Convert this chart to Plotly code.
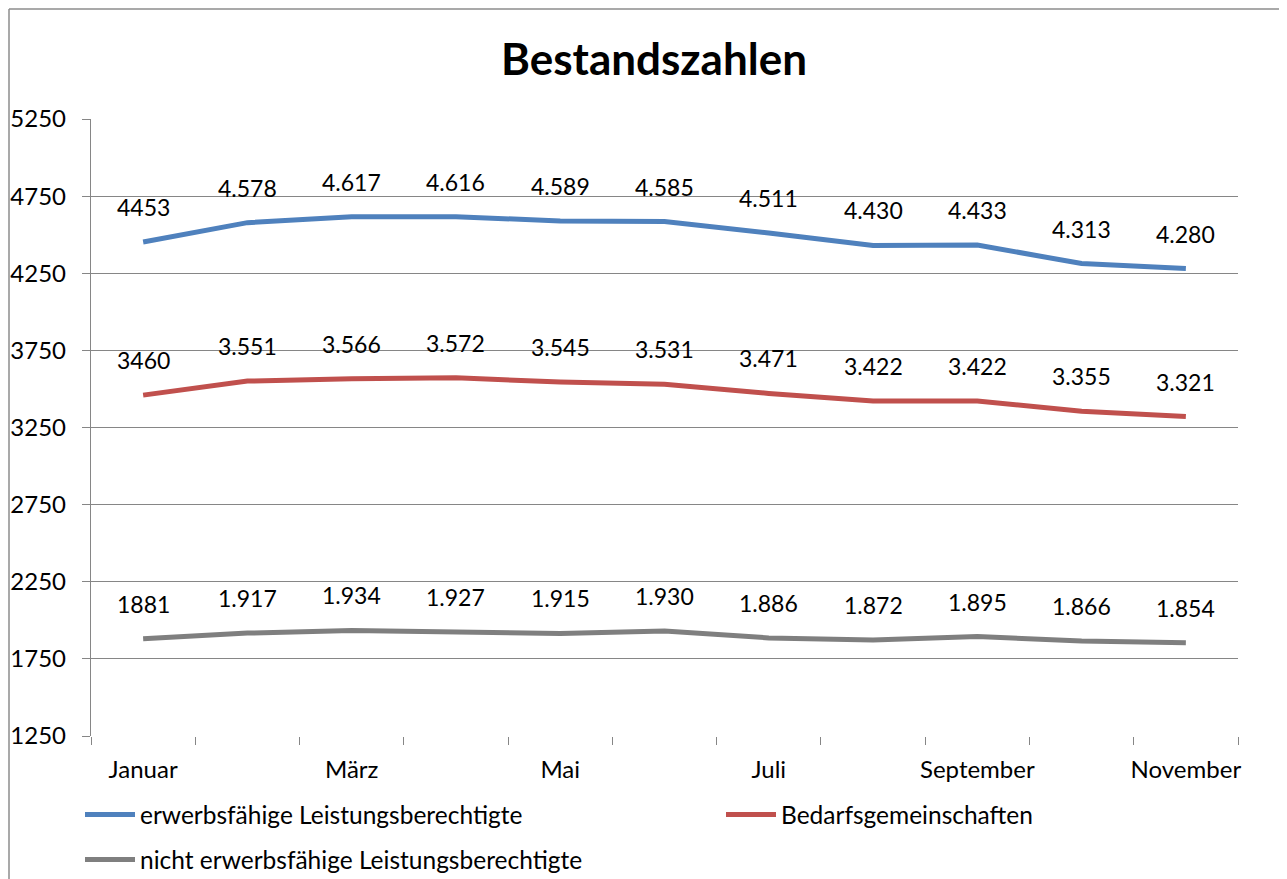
import plotly.graph_objects as go

months = ["Januar", "Februar", "März", "April", "Mai", "Juni", "Juli",
          "August", "September", "Oktober", "November"]
elb = [4453, 4578, 4617, 4616, 4589, 4585, 4511, 4430, 4433, 4313, 4280]
bg = [3460, 3551, 3566, 3572, 3545, 3531, 3471, 3422, 3422, 3355, 3321]
nelb = [1881, 1917, 1934, 1927, 1915, 1930, 1886, 1872, 1895, 1866, 1854]
y_ticks = [1250, 1750, 2250, 2750, 3250, 3750, 4250, 4750, 5250]

series = [
    ("erwerbsfähige Leistungsberechtigte", elb, "#4F81BD", "legend"),
    ("Bedarfsgemeinschaften", bg, "#C0504D", "legend2"),
    ("nicht erwerbsfähige Leistungsberechtigte", nelb, "#7F7F7F", "legend3"),
]

FONT = "Lato"
x = list(range(1, len(months) + 1))

W, H = 1279, 871
L, R, T, B = 83, 49, 111, 143
PW, PH = W - L - R, H - T - B


def fmt(i, v):
    return str(v) if i == 0 else f"{v:,}".replace(",", ".")


fig = go.Figure()
annotations = []
for name, vals, color, lg in series:
    fig.add_trace(go.Scatter(x=x, y=vals, name=name, mode="lines", legend=lg,
                             line=dict(color=color, width=5)))
    for i, v in enumerate(vals):
        annotations.append(dict(x=x[i], y=v, text=fmt(i, v), showarrow=False,
                                yshift=35, font=dict(size=23, color="black", family=FONT)))

grid = "#868686"
leg_common = dict(orientation="h", yanchor="top", font=dict(size=24.5, color="black"),
                  itemwidth=50, bgcolor="rgba(0,0,0,0)")
fig.update_layout(
    width=W, height=H,
    paper_bgcolor="white", plot_bgcolor="white",
    margin=dict(l=L, r=R, t=T, b=B, autoexpand=False),
    title=dict(text="<b>Bestandszahlen</b>", x=646 / W, xanchor="center",
               y=1 - 52 / H, yanchor="middle",
               font=dict(size=44, color="black", family=FONT)),
    font=dict(family=FONT, size=23, color="black"),
    xaxis=dict(range=[0.5, len(months) + 0.5], tickvals=x[::2], ticktext=months[::2],
               ticks="", showgrid=False, zeroline=False, showline=False,
               tickfont=dict(size=24), ticklabelstandoff=17,
               minor=dict(ticks="outside", tick0=0.5, dtick=1, ticklen=8,
                          tickcolor=grid, tickwidth=1.4, showgrid=False)),
    yaxis=dict(range=[1250, 5250], tickvals=y_ticks, showgrid=True, gridcolor=grid,
               gridwidth=1.4, ticks="outside", ticklen=8, tickcolor=grid, tickwidth=1.4,
               showline=True, linecolor=grid, linewidth=1.4, zeroline=False,
               tickfont=dict(size=24), ticklabelstandoff=11),
    legend=dict(x=(72 - L) / PW, xanchor="left", y=(PH + T - 784) / PH, **leg_common),
    legend2=dict(x=(713 - L) / PW, xanchor="left", y=(PH + T - 784) / PH, **leg_common),
    legend3=dict(x=(72 - L) / PW, xanchor="left", y=(PH + T - 829) / PH, **leg_common),
    annotations=annotations,
    showlegend=True,
)

# outer chart border (left and top edges visible)
bx = (1 - L) / PW
by = (PH + T - 1) / PH
fig.add_shape(type="line", xref="paper", yref="paper",
              x0=bx, x1=bx, y0=-0.5, y1=by,
              line=dict(color="#8C8C8C", width=1.5))
fig.add_shape(type="line", xref="paper", yref="paper",
              x0=bx, x1=1.2, y0=by, y1=by,
              line=dict(color="#8C8C8C", width=1.5))

fig.write_html("out.html")
